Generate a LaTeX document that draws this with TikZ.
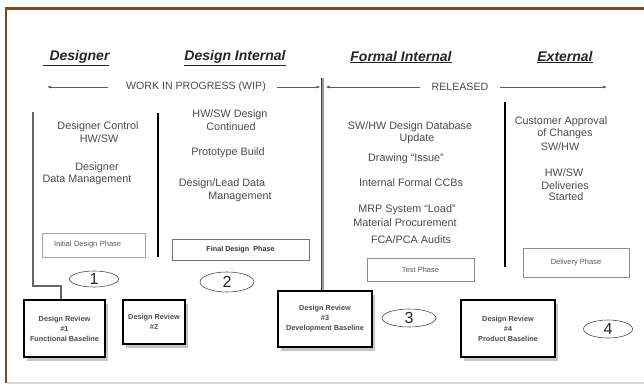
\documentclass[tikz,border=0pt]{standalone}
\usepackage{fontspec}
\setmainfont{Liberation Sans}
\usetikzlibrary{shapes.geometric,shadows,arrows.meta}
\definecolor{framebrown}{HTML}{7B4A1F}
\definecolor{framelight}{HTML}{E3D5C6}
\definecolor{ink}{HTML}{4A4A4A}
\begin{document}
\begin{tikzpicture}[x=1pt,y=-1pt,
  txt/.style={font=\fontsize{10.8}{12}\selectfont, text=ink, inner sep=0pt, anchor=center},
  head/.style={font=\fontsize{14}{16}\selectfont\bfseries\itshape, text=black!85, inner sep=0pt},
  rowlbl/.style={font=\fontsize{10.6}{12}\selectfont, text=ink, inner sep=0pt},
  arr/.style={draw=black!65, line width=0.7pt, -{Latex[length=4pt,width=3pt]}},
  phasebox/.style={draw=black!35, line width=0.7pt, font=\fontsize{7.5}{9}\selectfont, text=black!65, inner sep=0pt},
  num/.style={ellipse, draw=black!70, line width=0.6pt, inner sep=0pt},
  numtxt/.style={font=\fontsize{16}{18}\selectfont, text=black!85, inner sep=0pt},
  review/.style={draw=black, line width=1.1pt, fill=white, align=center, inner sep=0pt,
    font=\fontsize{7.3}{10}\selectfont\bfseries, text=black!70,
    drop shadow={shadow xshift=3pt, shadow yshift=-4pt, fill=black!45, opacity=0.5}},
  greyline/.style={draw=black!60, line width=1.4pt},
  blackline/.style={draw=black, line width=2.5pt}
]
\useasboundingbox (0,0) rectangle (644,385);
% frame
\draw[framebrown, line width=2.4pt] (5,8.5) -- (644,8.5);
\draw[framebrown, line width=2.4pt] (6.2,7.3) -- (6.2,383);
\draw[framelight, line width=2pt] (7.4,383) -- (644,383);

% headings
\node[head] (h1) at (76,58) {\underline{\hspace*{7pt}Designer}};
\node[head] (h2) at (235,58) {\underline{Design Internal}};
\node[head] (h3) at (401,57) {\underline{Formal Internal}};
\node[head] (h4) at (565,57) {\underline{External}};

% WIP / RELEASED row
\node[rowlbl] (wip) at (196,87) {WORK IN PROGRESS (WIP)};
\node[rowlbl] (rel) at (460,87) {RELEASED};
\coordinate (wipLa) at (108,87);
\coordinate (wipLb) at (47,87);
\coordinate (wipRa) at (277,87);
\coordinate (wipRb) at (320.5,87);
\coordinate (relLa) at (420,87);
\coordinate (relLb) at (325.5,87);
\coordinate (relRa) at (500,87);
\coordinate (relRb) at (607,87);
\draw[arr] (wipLa) -- (wipLb);
\draw[arr] (wipRa) -- (wipRb);
\draw[arr] (relLa) -- (relLb);
\draw[arr] (relRa) -- (relRb);

% design reviews
\node[review, minimum width=81pt, minimum height=57pt] (dr1) at (64.5,328.5) {Design Review\\\#1\\Functional Baseline};
\node[review, minimum width=62pt, minimum height=44pt] (dr2) at (154,322) {Design Review\\\#2};
\node[review, minimum width=94pt, minimum height=56pt] (dr3) at (325,319) {Design Review\\\#3\\Development Baseline};
\node[review, minimum width=94pt, minimum height=57pt] (dr4) at (508,328.5) {Design Review\\\#4\\Product Baseline};

% vertical dividers
\coordinate (v1a) at (33,112);
\coordinate (v1b) at (61,286);
\draw[greyline] (v1a) |- (v1b) -- (61,0 |- dr1.north);
\coordinate (v2a) at (158,113);
\coordinate (v2b) at (158,257);
\draw[blackline] (v2a) -- (v2b);
\coordinate (v3a) at (322.5,78);
\draw[draw=black!75, line width=0.7pt, double=black!40, double distance=2pt] (v3a) -- (322.5,0 |- dr3.north);
\coordinate (v4a) at (505,102);
\coordinate (v4b) at (505,267);
\draw[blackline] (v4a) -- (v4b);

% column 1
\node[txt] (c1a) at (98,127) {Designer Control};
\node[txt] (c1b) at (99,139) {HW/SW};
\node[txt] (c1c) at (97,168) {Designer};
\node[txt] (c1d) at (87,180) {Data Management};
% column 2
\node[txt] (c2a) at (230,115) {HW/SW Design};
\node[txt] (c2b) at (231,127) {Continued};
\node[txt] (c2c) at (228,153) {Prototype Build};
\node[txt] (c2d) at (222,184) {Design/Lead Data};
\node[txt] (c2e) at (240,197) {Management};
% column 3
\node[txt] (c3a) at (410,127) {SW/HW Design Database};
\node[txt] (c3b) at (417,139) {Update};
\node[txt] (c3c) at (406,159) {Drawing “Issue”};
\node[txt] (c3d) at (411,183) {Internal Formal CCBs};
\node[txt] (c3e) at (407,210) {MRP System “Load”};
\node[txt] (c3f) at (405,223) {Material Procurement};
\node[txt] (c3g) at (411,240) {FCA/PCA Audits};
% column 4
\node[txt] (c4a) at (561,122) {Customer Approval};
\node[txt] (c4b) at (565,134) {of Changes};
\node[txt] (c4c) at (560,147) {SW/HW};
\node[txt] (c4d) at (564,173) {HW/SW};
\node[txt] (c4e) at (565,186) {Deliveries};
\node[txt] (c4f) at (566,197) {Started};

% phase boxes
\node[phasebox, minimum width=103pt, minimum height=24pt, text width=95pt, align=left] (p1) at (93.5,245) {\hspace*{8pt}Initial Design Phase};
\node[phasebox, draw=black!55, text=black!80, font=\fontsize{7.2}{9}\selectfont\bfseries, minimum width=137pt, minimum height=21pt] (p2) at (240.5,249.5) {Final Design\ \ Phase};
\node[phasebox, draw=black!45, minimum width=107pt, minimum height=23pt] (p3) at (420.5,269.5) {Test Phase};
\node[phasebox, draw=black!45, minimum width=106pt, minimum height=29pt] (p4) at (576,262.5) {Delivery Phase};

% numbered ellipses
\node[num, minimum width=49pt, minimum height=16pt] (e1) at (94,279) {};
\node[numtxt] (n1) at (e1.center) {1};
\node[num, minimum width=54pt, minimum height=20pt] (e2) at (227,282) {};
\node[numtxt] (n2) at (e2.center) {2};
\node[num, minimum width=54pt, minimum height=18pt] (e3) at (409,318) {};
\node[numtxt] (n3) at (e3.center) {3};
\node[num, minimum width=49pt, minimum height=18pt] (e4) at (608,329) {};
\node[numtxt] (n4) at (e4.center) {4};
\end{tikzpicture}
\end{document}
